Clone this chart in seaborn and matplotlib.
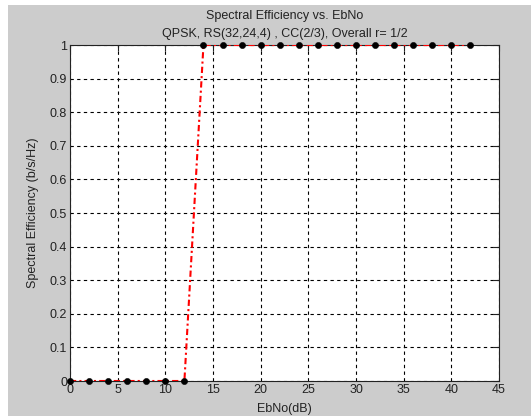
import matplotlib
matplotlib.use("Agg")
import matplotlib.pyplot as plt
import seaborn as sns
import pandas as pd
from matplotlib.patches import Rectangle

ebno = [0, 2, 4, 6, 8, 10, 12, 14, 16, 18, 20, 22, 24, 26, 28, 30, 32, 34, 36, 38, 40, 42]
efficiency = [0, 0, 0, 0, 0, 0, 0, 1, 1, 1, 1, 1, 1, 1, 1, 1, 1, 1, 1, 1, 1, 1]
xticks = [0, 5, 10, 15, 20, 25, 30, 35, 40, 45]
yticks = [0, 0.1, 0.2, 0.3, 0.4, 0.5, 0.6, 0.7, 0.8, 0.9, 1]
ytick_labels = ["0", "0.1", "0.2", "0.3", "0.4", "0.5", "0.6", "0.7", "0.8", "0.9", "1"]

df = pd.DataFrame({"EbNo": ebno, "SE": efficiency})

sns.set_style("white")
plt.rcParams['font.family'] = ['Liberation Sans', 'DejaVu Sans']

fig = plt.figure(figsize=(5.31, 4.16), dpi=100, facecolor="white")
fig.patches.append(Rectangle((8/531, 0), 1, 1 - 5/416, transform=fig.transFigure,
                             facecolor="#cccccc", edgecolor="none", zorder=-10))
ax = fig.add_axes([70/531, 1 - 381/416, 429/531, 336/416])
ax.set_facecolor("white")

sns.lineplot(data=df, x="EbNo", y="SE", ax=ax, color="red",
             linestyle=(0, (3, 1.5, 1, 1.5)), linewidth=1.5, zorder=3)
sns.scatterplot(data=df, x="EbNo", y="SE", ax=ax, color="black", s=20,
                edgecolor="black", zorder=4, clip_on=False)

ax.set_xlim(0, 45)
ax.set_ylim(0, 1)
ax.set_xticks(xticks)
ax.set_xticklabels([str(t) for t in xticks])
ax.set_yticks(yticks)
ax.set_yticklabels(ytick_labels)
ax.grid(True, color="black", linestyle=(0, (3, 3)), linewidth=0.8)
ax.tick_params(direction="in", length=4, top=True, right=True, labelsize=9,
               colors="#222222", labelcolor="#222222", pad=2)
for s in ax.spines.values():
    s.set_color("#222222")
    s.set_linewidth(0.8)

ax.set_xlabel("EbNo(dB)", fontsize=9, color="#222222", labelpad=5)
ax.set_ylabel("Spectral Efficiency (b/s/Hz)", fontsize=9, color="#222222", labelpad=8)
ax.set_title("Spectral Efficiency vs. EbNo\nQPSK, RS(32,24,4) , CC(2/3), Overall r= 1/2",
             fontsize=9, color="#222222", pad=6, linespacing=1.6)

fig.savefig("out.png", dpi=100, facecolor=fig.get_facecolor())
